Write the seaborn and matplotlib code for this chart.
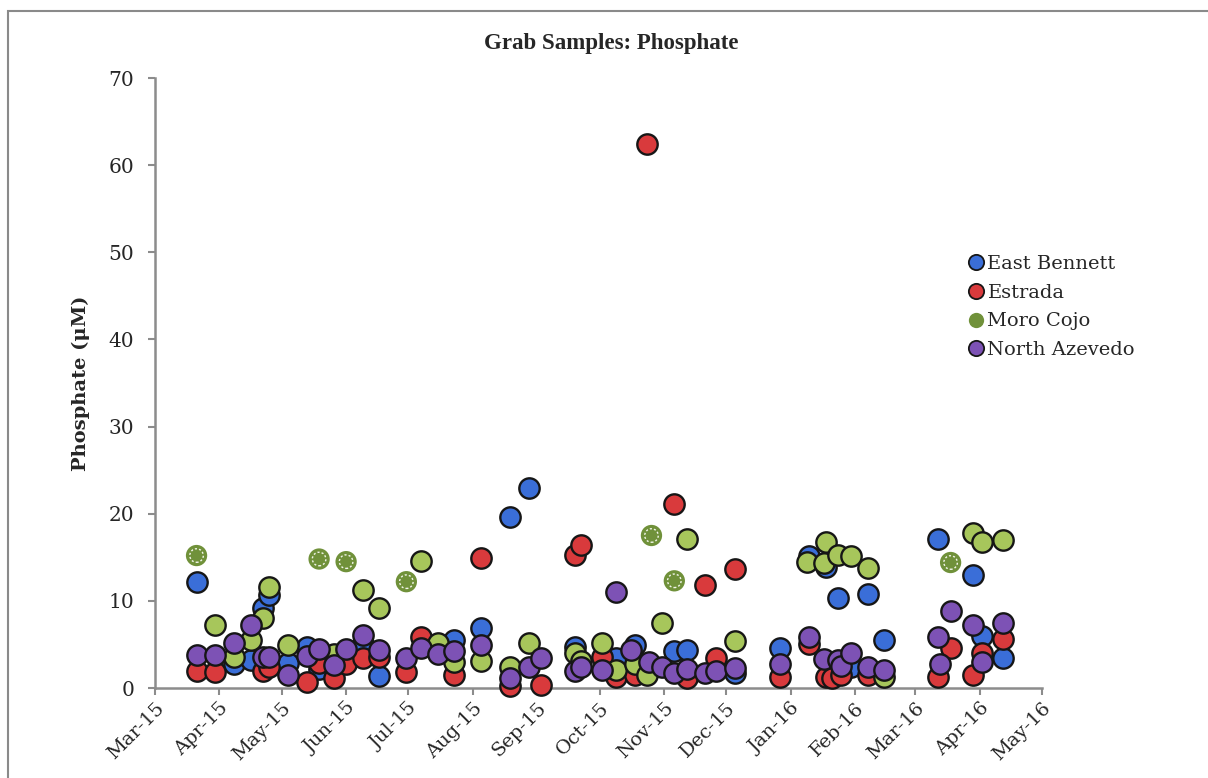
import matplotlib
matplotlib.use("Agg")
import matplotlib.pyplot as plt
import matplotlib.dates as mdates
from matplotlib.lines import Line2D
from matplotlib.patches import Rectangle
import seaborn as sns
import pandas as pd

# ---- Phosphate grab samples (uM) by site ----
east_bennett_dates = ["2015-03-21", "2015-04-08", "2015-04-16", "2015-04-22", "2015-04-25",
                      "2015-05-04", "2015-05-13", "2015-05-19", "2015-06-09", "2015-06-17",
                      "2015-07-23", "2015-08-05", "2015-08-19", "2015-08-28", "2015-09-19",
                      "2015-10-09", "2015-10-18", "2015-11-06", "2015-11-12", "2015-12-05",
                      "2015-12-27", "2016-01-10", "2016-01-18", "2016-01-24", "2016-01-30",
                      "2016-02-07", "2016-02-15", "2016-03-12", "2016-03-29", "2016-04-02",
                      "2016-04-12"]
east_bennett_vals = [12.2, 2.7, 3.2, 9.2, 10.7, 2.9, 4.7, 2.2, 5.0, 1.4,
                     5.5, 6.9, 19.6, 23.0, 4.7, 3.4, 4.9, 4.2, 4.4, 1.7,
                     4.6, 15.1, 13.9, 10.3, 2.4, 10.8, 5.5, 17.1, 13.0, 6.0,
                     3.4]

estrada_dates = ["2015-03-21", "2015-03-30", "2015-04-22", "2015-04-25", "2015-05-13",
                 "2015-05-19", "2015-05-26", "2015-06-01", "2015-06-09", "2015-06-17",
                 "2015-06-30", "2015-07-07", "2015-07-23", "2015-08-05", "2015-08-19",
                 "2015-09-03", "2015-09-19", "2015-09-22", "2015-10-02", "2015-10-09",
                 "2015-10-18", "2015-10-24", "2015-11-06", "2015-11-12", "2015-11-21",
                 "2015-11-26", "2015-12-05", "2015-12-27", "2016-01-10", "2016-01-18",
                 "2016-01-21", "2016-01-25", "2016-02-07", "2016-03-12", "2016-03-18",
                 "2016-03-29", "2016-04-02", "2016-04-12"]
estrada_vals = [2.0, 1.8, 2.0, 2.4, 0.7, 2.9, 1.2, 2.8, 3.4, 3.6,
                1.8, 5.8, 1.5, 14.9, 0.2, 0.3, 15.3, 16.4, 3.6, 1.3,
                1.5, 62.4, 21.1, 1.1, 11.8, 3.4, 13.6, 1.3, 5.0, 1.3,
                1.1, 1.5, 1.5, 1.3, 4.6, 1.5, 4.0, 5.6]

moro_cojo_dates = ["2015-03-30", "2015-04-08", "2015-04-16", "2015-04-22", "2015-04-25",
                   "2015-05-04", "2015-05-26", "2015-06-09", "2015-06-17", "2015-07-07",
                   "2015-07-15", "2015-07-23", "2015-08-05", "2015-08-19", "2015-08-28",
                   "2015-09-19", "2015-09-22", "2015-10-02", "2015-10-09", "2015-10-18",
                   "2015-10-24", "2015-10-31", "2015-11-12", "2015-12-05", "2016-01-09",
                   "2016-01-17", "2016-01-18", "2016-01-24", "2016-01-30", "2016-02-07",
                   "2016-02-15", "2016-03-29", "2016-04-02", "2016-04-12"]
moro_cojo_vals = [7.2, 3.6, 5.5, 8.0, 11.6, 4.9, 3.9, 11.3, 9.2, 14.6,
                  5.2, 3.0, 3.1, 2.4, 5.2, 4.0, 3.1, 5.2, 2.1, 2.8,
                  1.5, 7.5, 17.1, 5.4, 14.5, 14.4, 16.8, 15.3, 15.1, 13.8,
                  1.3, 17.8, 16.8, 17.0]

# Moro Cojo samples drawn with the series' own (legend) marker
moro_cojo_b_dates = ["2015-03-21", "2015-05-19", "2015-06-01", "2015-06-30",
                     "2015-10-26", "2015-11-06", "2016-03-18"]
moro_cojo_b_vals = [15.2, 14.8, 14.5, 12.2, 17.5, 12.3, 14.4]

north_azevedo_dates = ["2015-03-21", "2015-03-30", "2015-04-08", "2015-04-16", "2015-04-22",
                       "2015-04-25", "2015-05-04", "2015-05-13", "2015-05-19", "2015-05-26",
                       "2015-06-01", "2015-06-09", "2015-06-17", "2015-06-30", "2015-07-07",
                       "2015-07-15", "2015-07-23", "2015-08-05", "2015-08-19", "2015-08-28",
                       "2015-09-03", "2015-09-19", "2015-09-22", "2015-10-02", "2015-10-09",
                       "2015-10-16", "2015-10-25", "2015-10-31", "2015-11-06", "2015-11-12",
                       "2015-11-21", "2015-11-26", "2015-12-05", "2015-12-27", "2016-01-10",
                       "2016-01-17", "2016-01-24", "2016-01-25", "2016-01-30", "2016-02-07",
                       "2016-02-15", "2016-03-12", "2016-03-13", "2016-03-18", "2016-03-29",
                       "2016-04-02", "2016-04-12"]
north_azevedo_vals = [3.8, 3.8, 5.2, 7.2, 3.6, 3.6, 1.5, 3.7, 4.5, 2.6,
                      4.5, 6.1, 4.4, 3.5, 4.6, 3.9, 4.2, 4.9, 1.1, 2.4,
                      3.5, 1.9, 2.4, 2.1, 11.0, 4.4, 3.0, 2.4, 1.7, 2.2,
                      1.7, 2.0, 2.3, 2.8, 5.8, 3.3, 3.2, 2.5, 4.0, 2.4,
                      2.1, 5.9, 2.8, 8.8, 7.2, 3.0, 7.5]

sites = ["East Bennett", "Estrada", "Moro Cojo", "North Azevedo"]
y_ticks = [0, 10, 20, 30, 40, 50, 60, 70]

colors = {
    "East Bennett": "#3a6ed8",
    "Estrada": "#d93a3c",
    "Moro Cojo": "#a7c65b",
    "North Azevedo": "#7d52b5",
}
moro_dark = "#70913a"

frames = []
for site, d, v in [("East Bennett", east_bennett_dates, east_bennett_vals),
                   ("Estrada", estrada_dates, estrada_vals),
                   ("Moro Cojo", moro_cojo_dates, moro_cojo_vals),
                   ("North Azevedo", north_azevedo_dates, north_azevedo_vals)]:
    frames.append(pd.DataFrame({"date": pd.to_datetime(d), "phosphate": v, "site": site}))
df = pd.concat(frames, ignore_index=True)
df_b = pd.DataFrame({"date": pd.to_datetime(moro_cojo_b_dates), "phosphate": moro_cojo_b_vals})

sns.set_theme(style="white")
plt.rcParams["font.family"] = ["DejaVu Serif"]

fig = plt.figure(figsize=(12.08, 7.78), dpi=100)
fig.patch.set_facecolor("white")
ax = fig.add_axes([155 / 1208, 1 - 688 / 778, (1042 - 155) / 1208, (688 - 78) / 778])

# chart-area border
fig.patches.append(Rectangle((8 / 1208, -0.05), 1.2, (778 - 11) / 778 + 0.05,
                             transform=fig.transFigure, fill=False,
                             edgecolor="#8a8a8a", linewidth=1.5, zorder=0))

# series drawn in order so North Azevedo sits on top
for site in sites:
    sns.scatterplot(data=df[df.site == site], x="date", y="phosphate", ax=ax,
                    color=colors[site], s=215, edgecolor="#161616", linewidth=1.7,
                    legend=False, zorder=3, clip_on=False)

sns.scatterplot(data=df_b, x="date", y="phosphate", ax=ax, color=moro_dark,
                s=235, edgecolor="none", linewidth=0, legend=False, zorder=3)
ax.scatter(df_b["date"], df_b["phosphate"], s=95, facecolors="none",
           edgecolors="#f2f5ea", linewidths=1.0, linestyles=(0, (1.5, 1.5)), zorder=4)

ax.set_xlim(pd.Timestamp("2015-03-01"), pd.Timestamp("2016-05-01"))
ax.set_ylim(0, 70)
ax.set_yticks(y_ticks)
ax.xaxis.set_major_locator(mdates.MonthLocator())
ax.xaxis.set_major_formatter(mdates.DateFormatter("%b-%y"))

for side in ["top", "right"]:
    ax.spines[side].set_visible(False)
for side in ["left", "bottom"]:
    ax.spines[side].set_color("#8c8c8c")
    ax.spines[side].set_linewidth(1.8)

ax.tick_params(axis="both", direction="out", length=5, width=1.5, color="#8c8c8c",
               bottom=True, left=True)
ax.tick_params(axis="y", labelsize=14.5, pad=10)
ax.tick_params(axis="x", labelsize=14, pad=3)
for lab in ax.get_xticklabels():
    lab.set_rotation(45)
    lab.set_ha("right")
    lab.set_rotation_mode("anchor")

ax.set_xlabel("")
ax.set_ylabel("Phosphate (\u03bcM)", fontsize=14, fontweight="bold", labelpad=13)
ax.grid(False)

fig.text(611 / 1208, 1 - 43 / 778, "Grab Samples: Phosphate", ha="center", va="center",
         fontsize=16.5, fontweight="bold", family=["Liberation Serif", "DejaVu Serif"])

handles = [
    Line2D([], [], ls="none", marker="o", markersize=11, markerfacecolor=colors["East Bennett"],
           markeredgecolor="#161616", markeredgewidth=1.3),
    Line2D([], [], ls="none", marker="o", markersize=11, markerfacecolor=colors["Estrada"],
           markeredgecolor="#161616", markeredgewidth=1.3),
    Line2D([], [], ls="none", marker="o", markersize=11, markerfacecolor=moro_dark,
           markeredgecolor=moro_dark, markeredgewidth=0),
    Line2D([], [], ls="none", marker="o", markersize=11, markerfacecolor=colors["North Azevedo"],
           markeredgecolor="#161616", markeredgewidth=1.3),
]
fig.legend(handles, sites, loc="upper left", bbox_to_anchor=(968 / 1208, 1 - 255 / 778),
           frameon=False, fontsize=14, handlelength=0.8, handletextpad=0.2,
           labelspacing=0.55, borderaxespad=0, borderpad=0)

fig.savefig("out.png", dpi=100, facecolor="white")
